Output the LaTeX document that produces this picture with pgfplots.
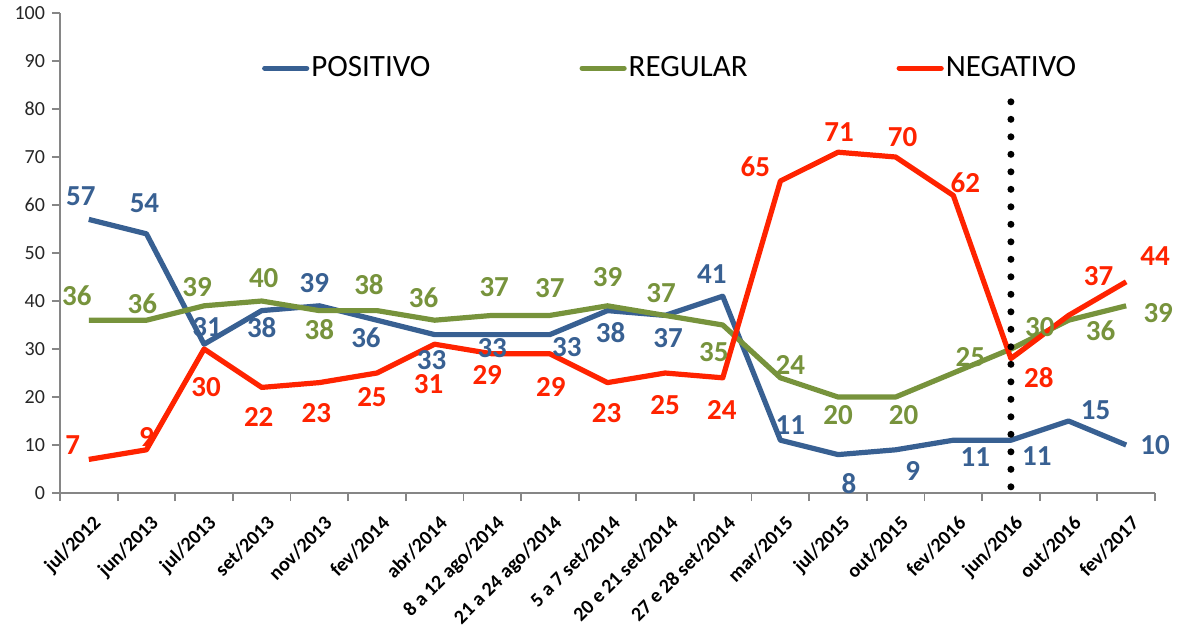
\documentclass[border=0pt]{standalone}
\usepackage{pgfplots}
\pgfplotsset{compat=1.18}
\usepackage{pgfplotstable}
\usepackage{fontspec}
\setmainfont{Carlito}
\definecolor{posblue}{RGB}{56,96,146}
\definecolor{reggreen}{RGB}{119,147,60}
\definecolor{negred}{RGB}{255,35,0}
\definecolor{axisgray}{RGB}{134,134,134}
\newcommand\lblfont{\fontsize{14.5}{14.5}\selectfont\bfseries}
\pgfplotsset{/pgf/number format/assume math mode=true}

\pgfplotstableread{
x y dx dy
0 57 -4 11.5
1 54 -1 15.5
2 31 1.5 8.5
3 38 0 -8.5
4 39 -2.5 11.5
5 36 -5.5 -8.5
6 33 -1.5 -12.5
7 33 0 -6.5
8 33 8.5 -6
9 38 1.5 -11
10 37 1.5 -11.5
11 41 -5.5 11
12 11 5 7.5
13 8 5.5 -14.5
14 9 8.5 -10.5
15 11 11 -8.5
16 11 13 -8
17 15 13.5 5.5
18 10 14.5 0
}\positivo

\pgfplotstableread{
x y dx dy
0 36 -6 12.5
1 36 -2 8.5
2 39 -3.5 9.5
3 40 1 11.5
4 38 0 -9.5
5 38 -4 13
6 36 -5.5 11.5
7 37 1 14
8 37 0 13.5
9 39 0 14.5
10 37 -2 11
11 35 -4.5 -13.5
12 24 5 6.5
13 20 0 -9
14 20 4 -9
15 25 8.5 8
16 30 14.5 11
17 36 16 -5
18 39 16 -3.5
}\regular

\pgfplotstableread{
x y dx dy
0 7 -8 7
1 9 0 6.5
2 30 1 -19
3 22 -1.5 -15
4 23 -1.5 -15
5 25 -2.5 -12
6 31 -3 -20
7 29 -2.5 -10.5
8 29 0.5 -16.5
9 23 -0.5 -15
10 25 0 -16
11 24 -0.5 -16
12 65 -12.5 7
13 71 0.5 10
14 70 3.5 10
15 62 6 6.5
16 28 14 -9.5
17 37 15 19.5
18 44 14.5 13
}\negativo

\pgfplotsset{
  lbl/.style={
    nodes near coords,
    point meta=explicit,
    visualization depends on={\thisrow{dx}\as\dx},
    visualization depends on={\thisrow{dy}\as\dy},
    every node near coord/.append style={anchor=center, xshift=\dx pt, yshift=\dy pt, font=\lblfont, text=#1, inner sep=0pt},
  }
}

\begin{document}
\begin{tikzpicture}
\begin{axis}[
  width=547.5pt, height=240pt, scale only axis,
  xmin=-0.5, xmax=18.5, ymin=0, ymax=100,
  axis x line=bottom, axis y line=left,
  axis line style={-, draw=axisgray, line width=0.9pt},
  tick style={draw=axisgray, line width=0.9pt},
  tick align=outside,
  major tick length=4pt,
  minor tick length=4pt,
  ytick={0,10,...,100},
  yticklabel style={font=\fontsize{10}{12}\selectfont, text=black!85},
  xtick={0,...,18},
  xticklabels={jul/2012,jun/2013,jul/2013,set/2013,nov/2013,fev/2014,abr/2014,8 a 12 ago/2014,21 a 24 ago/2014,5 a 7 set/2014,20 e 21 set/2014,27 e 28 set/2014,mar/2015,jul/2015,out/2015,fev/2016,jun/2016,out/2016,fev/2017},
  major x tick style={draw=none},
  minor xtick={-0.5,0.5,...,18.5},
  xticklabel style={rotate=45, anchor=east, font=\fontsize{10}{12}\selectfont\bfseries, text=black, xshift=0pt, yshift=-10pt},
  legend columns=3,
  legend style={at={(axis cs:3.0,88.5)}, anchor=west, draw=none, fill=none,
    font=\fontsize{15.5}{16}\selectfont, inner sep=0pt,
    nodes={inner sep=1pt},
    /tikz/every even column/.append style={column sep=73.5pt}},
  legend image code/.code={\draw[#1, line cap=round] (0pt,0pt) -- (21pt,0pt);},
  clip=false,
]
\addplot[posblue, line width=2.6pt, line join=round, lbl=posblue] table[x=x, y=y, meta=y] {\positivo};
\addlegendentry{POSITIVO}
\addplot[reggreen, line width=2.6pt, line join=round, lbl=reggreen] table[x=x, y=y, meta=y] {\regular};
\addlegendentry{REGULAR}
\addplot[negred, line width=2.6pt, line join=round, lbl=negred] table[x=x, y=y, meta=y] {\negativo};
\addlegendentry{NEGATIVO}
\addplot[black, line width=3.5pt, line cap=round, dash pattern=on 0pt off 8.75pt, forget plot] coordinates {(16,81.5) (16,0.6)};
\coordinate (sw) at (rel axis cs:0,0);
\end{axis}
\pgfresetboundingbox
\path (sw) ++(-30pt,-68pt) rectangle ++(591.5pt,314.5pt);
\end{tikzpicture}
\end{document}
